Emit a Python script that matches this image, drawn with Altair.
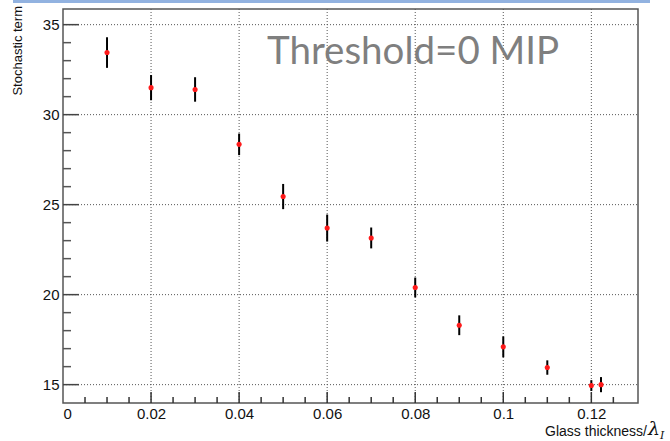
import altair as alt
import pandas as pd

# data
thickness = [0.01, 0.02, 0.03, 0.04, 0.05, 0.06, 0.07, 0.08, 0.09, 0.10, 0.11, 0.12, 0.1222]
stochastic = [33.45, 31.5, 31.4, 28.35, 25.45, 23.7, 23.15, 20.4, 18.3, 17.1, 15.95, 14.95, 15.0]
error = [0.85, 0.7, 0.68, 0.6, 0.7, 0.75, 0.58, 0.55, 0.55, 0.58, 0.4, 0.3, 0.42]

x_label_vals = [0, 0.02, 0.04, 0.06, 0.08, 0.1, 0.12]
y_label_vals = [15, 20, 25, 30, 35]
x_grid_vals = [0.02, 0.04, 0.06, 0.08, 0.1, 0.12]
x_minor_vals = [0.005, 0.01, 0.015, 0.025, 0.03, 0.035, 0.045, 0.05, 0.055,
                0.065, 0.07, 0.075, 0.085, 0.09, 0.095, 0.105, 0.11, 0.115, 0.125]
y_minor_vals = [16, 17, 18, 19, 21, 22, 23, 24, 26, 27, 28, 29, 31, 32, 33, 34]

W, H = 575, 394
XDOM = [0, 0.1306]
YDOM = [13.98, 35.87]

df = pd.DataFrame({
    "x": thickness,
    "y": stochastic,
    "lo": [v - e for v, e in zip(stochastic, error)],
    "hi": [v + e for v, e in zip(stochastic, error)],
})

xs = alt.Scale(domain=XDOM, nice=False, zero=False)
ys = alt.Scale(domain=YDOM, nice=False, zero=False)

FONT = "Liberation Sans"

xgrid = alt.Chart(pd.DataFrame({"x": x_grid_vals})).mark_rule(
    color="#555", strokeWidth=1, strokeDash=[1, 2]
).encode(x=alt.X("x:Q", scale=xs), y=alt.value(0), y2=alt.value(H))

ygrid = alt.Chart(pd.DataFrame({"y": y_label_vals})).mark_rule(
    color="#555", strokeWidth=1, strokeDash=[1, 2]
).encode(y=alt.Y("y:Q", scale=ys), x=alt.value(0), x2=alt.value(W))

xmaj = alt.Chart(pd.DataFrame({"x": x_grid_vals})).mark_rule(
    color="#333", strokeWidth=1.5
).encode(x=alt.X("x:Q", scale=xs), y=alt.value(H), y2=alt.value(H - 11))

xmin = alt.Chart(pd.DataFrame({"x": x_minor_vals})).mark_rule(
    color="#333", strokeWidth=1.5
).encode(x=alt.X("x:Q", scale=xs), y=alt.value(H), y2=alt.value(H - 6))

ymaj = alt.Chart(pd.DataFrame({"y": y_label_vals})).mark_rule(
    color="#444", strokeWidth=1.5
).encode(y=alt.Y("y:Q", scale=ys), x=alt.value(0), x2=alt.value(16))

ymin = alt.Chart(pd.DataFrame({"y": y_minor_vals})).mark_rule(
    color="#555", strokeWidth=1.5
).encode(y=alt.Y("y:Q", scale=ys), x=alt.value(0), x2=alt.value(8))

base = alt.Chart(df)

errbars = base.mark_rule(color="black", strokeWidth=2).encode(
    x=alt.X("x:Q", scale=xs,
            axis=alt.Axis(values=x_label_vals, format="~g", title=None, grid=False,
                          ticks=False, domain=False, labelFont=FONT, labelFontSize=15,
                          labelColor="#111", labelPadding=3)),
    y=alt.Y("lo:Q", scale=ys,
            axis=alt.Axis(values=y_label_vals, title=None, grid=False, ticks=False,
                          domain=False, labelFont=FONT, labelFontSize=15,
                          labelColor="#111", labelPadding=4)),
    y2="hi:Q",
)

points = base.mark_circle(color="#ff1a1a", size=26, opacity=1).encode(
    x=alt.X("x:Q", scale=xs), y=alt.Y("y:Q", scale=ys)
)

one = pd.DataFrame({"a": [0]})

thresh = alt.Chart(one).mark_text(
    text="Threshold=0 MIP", font="Lato", fontSize=38.5, color="#7f7f7f",
    align="left", baseline="alphabetic"
).encode(x=alt.value(204), y=alt.value(55))

ytitle = alt.Chart(one).mark_text(
    text="Stochastic term", font=FONT, fontSize=13, color="#111",
    angle=270, align="right", baseline="middle"
).encode(x=alt.value(-45), y=alt.value(-3))

xtitle = alt.Chart(one).mark_text(
    text="Glass thickness/", font=FONT, fontSize=14, color="#111",
    align="right", baseline="alphabetic"
).encode(x=alt.value(584), y=alt.value(427))

lam = alt.Chart(one).mark_text(
    text="λ", font="DejaVu Serif", fontSize=19, fontStyle="italic", color="#111",
    align="left", baseline="alphabetic"
).encode(x=alt.value(585), y=alt.value(426))

sub = alt.Chart(one).mark_text(
    text="I", font="DejaVu Serif", fontSize=11, fontStyle="italic", color="#111",
    align="left", baseline="alphabetic"
).encode(x=alt.value(597), y=alt.value(430))

band = alt.Chart(one).mark_rect(color="#92b2e0").encode(
    x=alt.value(-50), x2=alt.value(587), y=alt.value(-9), y2=alt.value(-6)
)

chart = alt.layer(
    band, xgrid, ygrid, xmaj, xmin, ymaj, ymin, errbars, points,
    thresh, ytitle, xtitle, lam, sub
).properties(
    width=W, height=H,
    autosize=alt.AutoSizeParams(type="none"),
    padding={"left": 63, "top": 9, "right": 32, "bottom": 38},
    background="white",
).configure_view(stroke="#555", strokeWidth=1.5)

chart.save("out.html", embed_options={"renderer": "svg", "actions": False})
